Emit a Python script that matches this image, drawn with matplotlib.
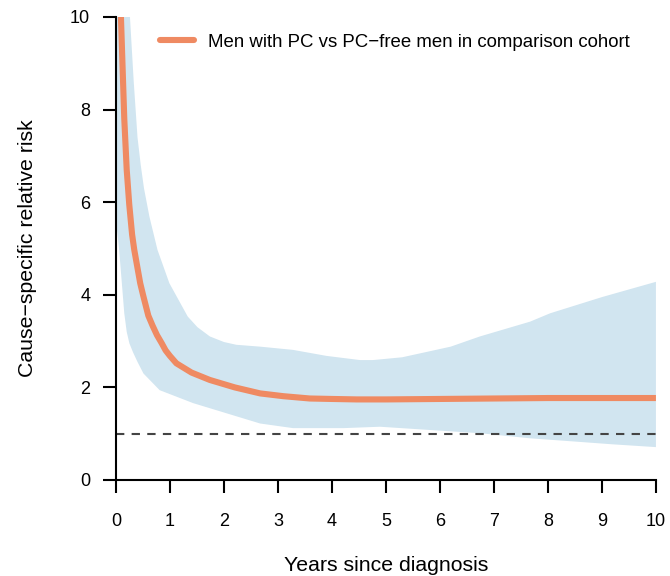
import numpy as np
import matplotlib.pyplot as plt

# relative risk estimate
rr_x = [0.03, 0.093, 0.155, 0.2, 0.247, 0.3, 0.34, 0.45, 0.506, 0.6, 0.68, 0.76, 0.85,
        0.92, 1.0, 1.12, 1.4, 1.74, 2.2, 2.67, 3.1, 3.59, 4.0, 4.46, 5.0, 6.0, 7.0, 8.0,
        9.0, 10.0]
rr_y = [13.5, 10.0, 7.8, 6.7, 5.95, 5.3, 4.97, 4.25, 3.98, 3.55, 3.33, 3.13, 2.95,
        2.8, 2.68, 2.52, 2.32, 2.16, 2.0, 1.87, 1.81, 1.76, 1.75, 1.74, 1.74, 1.75, 1.76, 1.77,
        1.77, 1.77]

# confidence band
up_x = [0.0, 0.15, 0.26, 0.33, 0.40, 0.46, 0.52, 0.62, 0.77, 0.99, 1.33, 1.51, 1.74, 2.0,
        2.23, 2.67, 3.28, 3.9, 4.52, 4.76, 5.3, 5.81, 6.2, 6.74, 7.67, 8.04, 9.0, 10.0]
up_y = [16.0, 12.5, 10.0, 8.6, 7.4, 6.8, 6.3, 5.69, 4.97, 4.25, 3.53, 3.3, 3.1, 2.98,
        2.92, 2.88, 2.81, 2.68, 2.59, 2.59, 2.65, 2.78, 2.88, 3.1, 3.42, 3.6, 3.95, 4.28]
lo_x = [0.0, 0.03, 0.06, 0.11, 0.155, 0.2, 0.25, 0.32, 0.4, 0.51, 0.81, 1.43, 2.05, 2.67,
        3.28, 4.21, 4.89, 5.81, 6.74, 7.67, 8.5, 9.2, 10.0]
lo_y = [5.6, 5.3, 4.97, 4.25, 3.6, 3.2, 2.95, 2.75, 2.55, 2.3, 1.94, 1.66, 1.44, 1.22,
        1.12, 1.12, 1.15, 1.08, 1.01, 0.9, 0.83, 0.77, 0.71]

ticks = list(range(0, 11))
yticks = [0, 2, 4, 6, 8, 10]

plt.rcParams["font.family"] = ["Liberation Sans", "DejaVu Sans"]

fig = plt.figure(figsize=(6.7, 5.76), dpi=100)
ax = fig.add_axes([0.173, 0.1667, 0.806, 0.8038])

band_x = np.concatenate([up_x, lo_x[::-1]])
band_y = np.concatenate([up_y, lo_y[::-1]])
ax.fill(band_x, band_y, color="#D1E5F0", lw=0)
ax.axhline(1, color="#444444", lw=1.5, ls=(0, (4, 3.5)))
ax.plot(rr_x, rr_y, color="#EF8A62", lw=4.4, solid_capstyle="butt",
        solid_joinstyle="round",
        label="Men with PC vs PC\u2212free men in comparison cohort")

ax.set_xlim(0, 10)
ax.set_ylim(0, 10)
ax.set_xticks(ticks)
ax.set_yticks(yticks)
ax.spines["top"].set_visible(False)
ax.spines["right"].set_visible(False)
ax.spines["left"].set_linewidth(1.5)
ax.spines["bottom"].set_linewidth(1.5)
ax.tick_params(length=9.5, width=1.5, labelsize=13)
ax.tick_params(axis="x", pad=14)
ax.tick_params(axis="y", pad=9)

ax.set_xlabel("Years since diagnosis", fontsize=15.3, labelpad=19)
ax.set_ylabel("Cause\u2212specific relative risk", fontsize=15.3, labelpad=23.5)

leg = ax.legend(loc="upper left", bbox_to_anchor=(0.05, 1.0), frameon=False,
                fontsize=13.4, handlelength=1.85, handletextpad=0.75)
for h in leg.get_lines():
    h.set_solid_capstyle("round")

plt.savefig("out.png")
